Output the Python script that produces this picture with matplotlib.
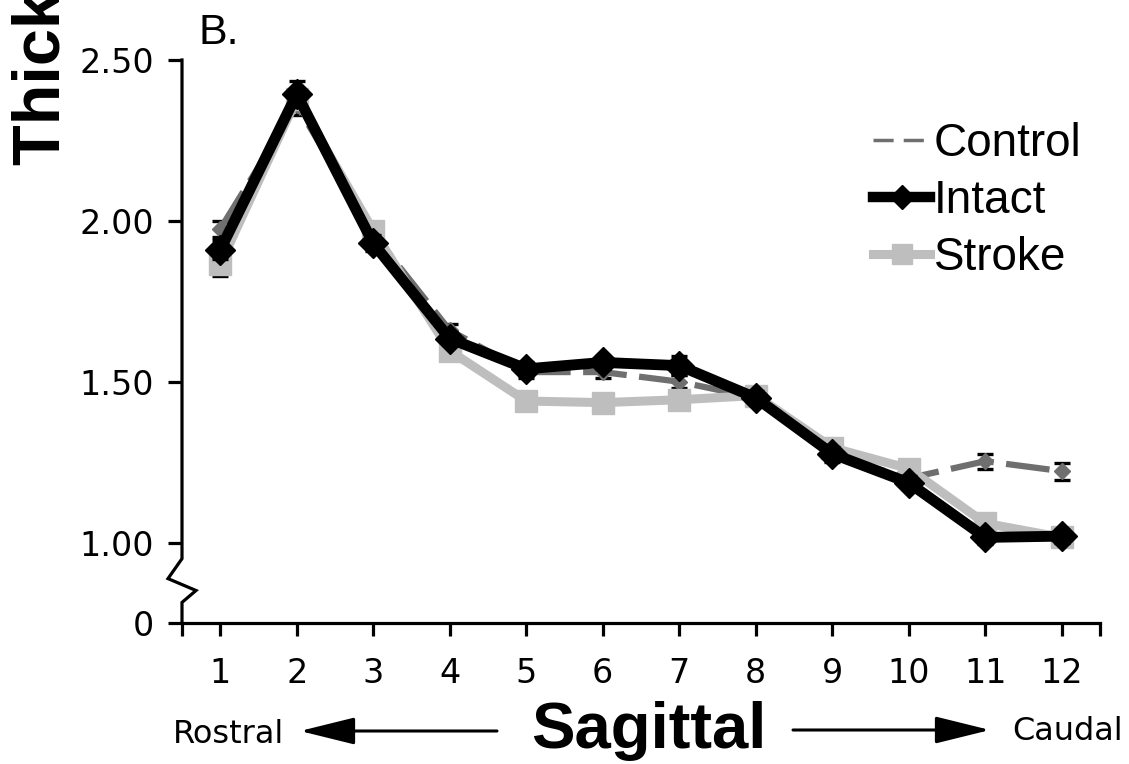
import matplotlib
matplotlib.use("Agg")
import matplotlib.pyplot as plt
from matplotlib.lines import Line2D

# ---- data ----
sections = [1, 2, 3, 4, 5, 6, 7, 8, 9, 10, 11, 12]
control = [1.975, 2.36, 1.96, 1.66, 1.53, 1.53, 1.50, 1.45, 1.27, 1.20, 1.253, 1.222]
control_err = [0.024, 0.03, 0.02, 0.02, 0.02, 0.02, 0.02, 0.02, 0.02, 0.02, 0.023, 0.026]
intact = [1.91, 2.394, 1.93, 1.634, 1.54, 1.56, 1.55, 1.45, 1.276, 1.186, 1.016, 1.02]
intact_err = [0.03, 0.04, 0.025, 0.02, 0.02, 0.02, 0.03, 0.02, 0.02, 0.02, 0.02, 0.02]
stroke = [1.866, 2.38, 1.97, 1.596, 1.44, 1.435, 1.444, 1.457, 1.295, 1.23, 1.06, 1.016]
stroke_err = [0.037, 0.03, 0.025, 0.02, 0.02, 0.02, 0.03, 0.02, 0.02, 0.02, 0.02, 0.02]
series_names = ["Control", "Intact", "Stroke"]
ytick_vals = [0.75, 1.0, 1.5, 2.0, 2.5]          # 0.75 is the broken-axis stand-in for 0
ytick_labels = ["0", "1.00", "1.50", "2.00", "2.50"]

W, H = 1129, 764
fig = plt.figure(figsize=(W / 100, H / 100), dpi=100)
ax = fig.add_axes([182 / W, (H - 623) / H, (1100 - 182) / W, (623 - 60) / H])

c_control = "#6f6f6f"
c_stroke = "#bebebe"
c_intact = "#000000"

ax.errorbar(sections, control, yerr=control_err, color=c_control, lw=4.5,
            dashes=(7, 2), marker="D", ms=8, mfc=c_control, mec=c_control,
            ecolor="k", elinewidth=1.6, capsize=6, capthick=2.4, zorder=2)
ax.errorbar(sections, stroke, yerr=stroke_err, color=c_stroke, lw=6.5,
            marker="s", ms=16, mfc=c_stroke, mec=c_stroke,
            ecolor="k", elinewidth=1.6, capsize=6, capthick=2.4, zorder=3)
ax.errorbar(sections, intact, yerr=intact_err, color=c_intact, lw=7.8,
            marker="D", ms=15, mfc=c_intact, mec=c_intact,
            ecolor="k", elinewidth=1.6, capsize=6, capthick=2.4, zorder=4)

ax.set_xlim(0.5, 12.5)
ax.set_ylim(0.75, 2.5)

ax.spines["top"].set_visible(False)
ax.spines["right"].set_visible(False)
ax.spines["left"].set_visible(False)
ax.spines["bottom"].set_linewidth(2.3)

# custom left spine with a zigzag break
yt = ax.get_yaxis_transform()
dx = 14 / (1100 - 182)
ax.plot([0, 0, -dx, dx, 0, 0], [2.5, 0.95, 0.888, 0.851, 0.814, 0.75],
        transform=yt, color="k", lw=2.3, clip_on=False, zorder=5,
        solid_joinstyle="miter")

ax.set_xticks([0.5] + sections + [12.5])
ax.set_xticklabels([""] + [str(s) for s in sections] + [""])
ax.set_yticks(ytick_vals)
ax.set_yticklabels(ytick_labels)
ax.tick_params(axis="x", direction="out", length=9.5, width=2.3, pad=15,
               labelsize=24)
ax.tick_params(axis="y", direction="out", length=10, width=2.3, pad=10,
               labelsize=24)
for lab in ax.get_xticklabels() + ax.get_yticklabels():
    lab.set_fontfamily("DejaVu Sans")

# legend
handles = [
    Line2D([], [], color=c_control, lw=2.5, dashes=(5.8, 2.9)),
    Line2D([], [], color=c_intact, lw=7.5, marker="D", ms=12),
    Line2D([], [], color=c_stroke, lw=6.5, marker="s", ms=14),
]
leg = fig.legend(handles, series_names, loc="upper left",
                 bbox_to_anchor=(873 / W, (H - 122) / H), frameon=False,
                 borderpad=0, borderaxespad=0, handlelength=1.25,
                 handletextpad=0.07, labelspacing=0.28,
                 prop={"family": "Liberation Sans", "size": 33})

# texts
fig.text(198 / W, (H - 44) / H, "B.", family="Liberation Sans", size=31,
         ha="left", va="baseline")
fig.text(60 / W, (H - 165) / H, "Thickness (mm)", family="Liberation Sans",
         weight="bold", size=48, rotation=90, rotation_mode="anchor",
         ha="left", va="baseline")
fig.text(649 / W, 16 / H, "Sagittal", family="Liberation Sans", weight="bold",
         size=47, ha="center", va="baseline")
fig.text(173 / W, 21 / H, "Rostral", family="DejaVu Sans", size=23,
         ha="left", va="baseline")
fig.text(1012 / W, 24 / H, "Caudal", family="DejaVu Sans", size=23,
         ha="left", va="baseline")

arrow_style = "-|>,head_length=1.7,head_width=0.42"
fig.add_artist(matplotlib.patches.FancyArrowPatch(
    posA=(497 / W, 33 / H), posB=(300 / W, 33 / H), transform=fig.transFigure,
    arrowstyle=arrow_style, mutation_scale=20, lw=2.2, color="k",
    shrinkA=0, shrinkB=0))
fig.add_artist(matplotlib.patches.FancyArrowPatch(
    posA=(793 / W, 34 / H), posB=(990 / W, 34 / H), transform=fig.transFigure,
    arrowstyle=arrow_style, mutation_scale=20, lw=2.2, color="k",
    shrinkA=0, shrinkB=0))

fig.savefig("out.png", dpi=100)
